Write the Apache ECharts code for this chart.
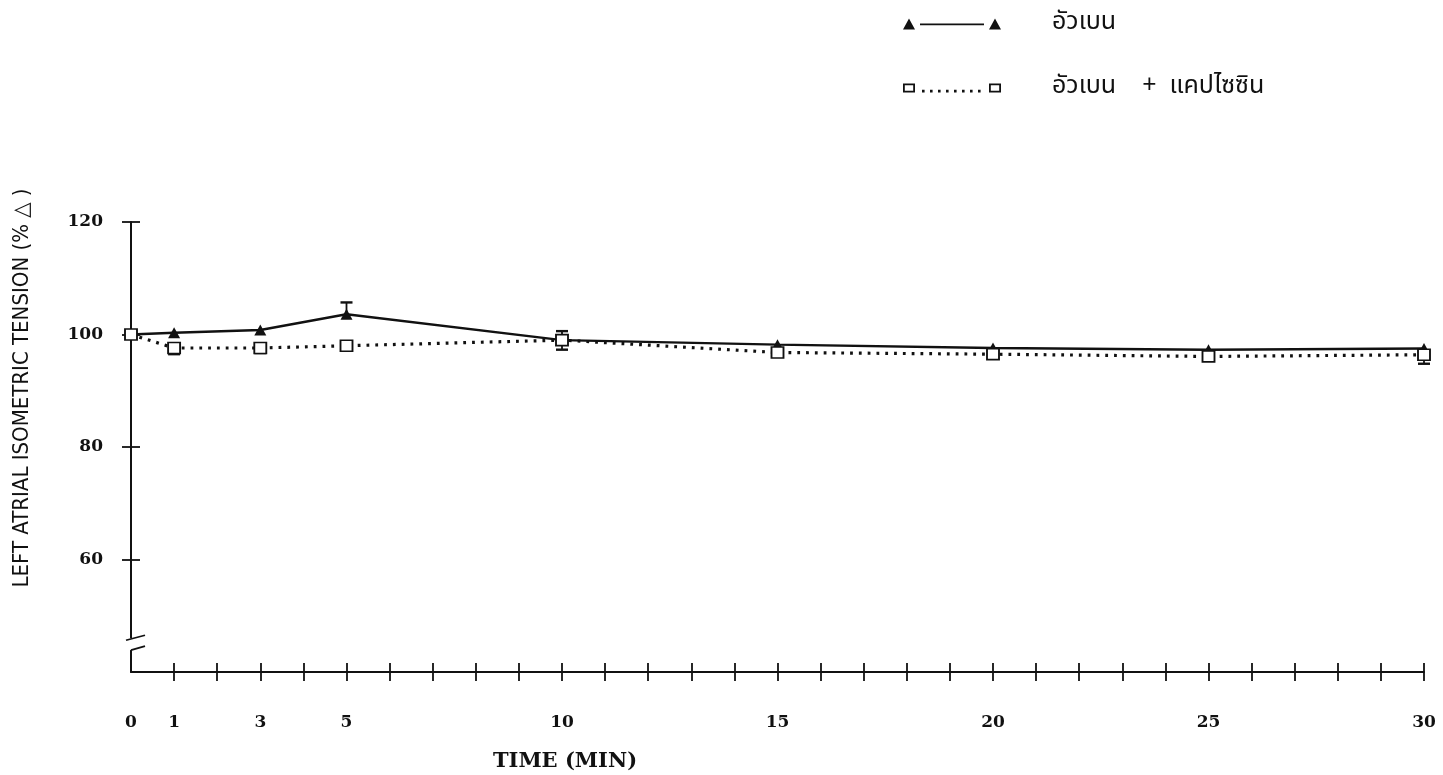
<!DOCTYPE html>
<html><head><meta charset="utf-8">
<script src="https://cdn.jsdelivr.net/npm/echarts@6/dist/echarts.min.js"></script>
<style>html,body{margin:0;padding:0;background:#fff}#c{width:1443px;height:775px}</style>
</head><body><div id="c"></div>
<script>
const times = [0, 1, 3, 5, 10, 15, 20, 25, 30];
const ouabain = [100, 100.3, 100.8, 103.6, 99.0, 98.2, 97.6, 97.3, 97.5];
const ouabainErrUp = [0, 0, 0, 2.1, 0, 0, 0, 0, 0];
const ouabainErrDown = [0, 0, 0, 0, 0, 0, 0, 0, 0];
const combo = [100, 97.6, 97.6, 98.0, 99.0, 96.8, 96.5, 96.1, 96.4];
const comboErrUp = [0, 0, 0, 0, 1.6, 0, 0, 0, 0];
const comboErrDown = [0, 1.1, 0.9, 0, 1.7, 0, 0, 0, 1.6];
const xLabelValues = [0, 1, 3, 5, 10, 15, 20, 25, 30];
const xTickValues = [1,2,3,4,5,6,7,8,9,10,11,12,13,14,15,16,17,18,19,20,21,22,23,24,25,26,27,28,29,30];
const yTickValues = [60, 80, 100, 120];
const seriesNames = ['อัวเบน', 'อัวเบน    +  แคปไซซิน'];
const yAxisTitle = 'LEFT ATRIAL ISOMETRIC TENSION (% △ )';
const xAxisTitle = 'TIME (MIN)';

const INK = '#111';
const serif = '"DejaVu Serif", "Liberation Serif", serif';
const thai = '"Noto Sans Thai", "Noto Sans", Loma, Garuda, sans-serif';

function errSeries(vals, up, down) {
  return {
    type: 'custom', silent: true, z: 1, xAxisIndex: 0, yAxisIndex: 0,
    data: times.map((t, i) => [t, vals[i], up[i], down[i]]),
    renderItem(params, api) {
      const x = api.value(0), y = api.value(1), u = api.value(2), d = api.value(3);
      const c = api.coord([x, y]);
      const ch = [];
      const add = (v) => {
        const p = api.coord([x, v]);
        ch.push({type: 'line', shape: {x1: c[0], y1: c[1], x2: p[0], y2: p[1]}, style: {stroke: INK, lineWidth: 1.8}});
        ch.push({type: 'line', shape: {x1: p[0] - 6, y1: p[1], x2: p[0] + 6, y2: p[1]}, style: {stroke: INK, lineWidth: 2.4}});
      };
      if (u > 0) add(y + u);
      if (d > 0) add(y - d);
      return {type: 'group', children: ch};
    }
  };
}

const triIcon = 'path://M0 11 L6 0 L12 11 Z M17 5 L81 5 L81 6.8 L17 6.8 Z M86 11 L92 0 L98 11 Z';
let dots = '';
for (const dx of [19, 27, 35, 43, 51, 59, 67, 75]) dots += ' M' + dx + ' 8.3 L' + (dx + 2.6) + ' 8.3 L' + (dx + 2.6) + ' 10.9 L' + dx + ' 10.9 Z';
const sqIcon = 'path://M0 2 L12 2 L12 11 L0 11 Z M1.8 3.8 L1.8 9.2 L10.2 9.2 L10.2 3.8 Z' + dots +
  ' M86 2 L98 2 L98 11 L86 11 Z M87.8 3.8 L87.8 9.2 L96.2 9.2 L96.2 3.8 Z';

const chart = echarts.init(document.getElementById('c'));
const xBase = {type: 'value', min: 0, max: 30, splitLine: {show: false}, position: 'bottom'};
const yBase = {type: 'value', min: 40, max: 120, splitLine: {show: false}, position: 'left'};
const tickStyle = {color: INK, width: 1.8};
chart.setOption({
  backgroundColor: '#fff',
  animation: false,
  grid: {left: 131, right: 19, top: 222, bottom: 103},
  legend: {
    orient: 'vertical', left: 898, top: 6,
    itemWidth: 98, itemHeight: 11, itemGap: 38,
    textStyle: {fontFamily: thai, fontSize: 25, color: INK, lineHeight: 26, padding: [0, 0, 0, 46]},
    data: [
      {name: seriesNames[0], icon: triIcon, itemStyle: {color: INK, borderWidth: 0}},
      {name: seriesNames[1], icon: sqIcon, itemStyle: {color: INK, borderWidth: 0}}
    ]
  },
  xAxis: [
    Object.assign({}, xBase, {
      axisLine: {show: true, onZero: false, lineStyle: {color: INK, width: 2}},
      axisTick: {show: true, inside: false, length: 9, customValues: xTickValues, lineStyle: tickStyle},
      axisLabel: {show: true, margin: 42, customValues: xLabelValues, color: INK, fontFamily: serif, fontSize: 17, fontWeight: 'bold'}
    }),
    Object.assign({}, xBase, {
      axisLine: {show: false, onZero: false},
      axisTick: {show: true, inside: true, length: 9, customValues: xTickValues, lineStyle: tickStyle},
      axisLabel: {show: false}
    })
  ],
  yAxis: [
    Object.assign({}, yBase, {
      axisLine: {show: true, onZero: false, lineStyle: {color: INK, width: 2}},
      axisTick: {show: true, inside: false, length: 9, customValues: yTickValues, lineStyle: tickStyle},
      axisLabel: {show: true, margin: 28, customValues: yTickValues, color: INK, fontFamily: serif, fontSize: 17, fontWeight: 'bold'}
    }),
    Object.assign({}, yBase, {
      axisLine: {show: false, onZero: false},
      axisTick: {show: true, inside: true, length: 9, customValues: yTickValues, lineStyle: tickStyle},
      axisLabel: {show: false}
    })
  ],
  series: [
    errSeries(ouabain, ouabainErrUp, ouabainErrDown),
    errSeries(combo, comboErrUp, comboErrDown),
    {
      name: seriesNames[0], type: 'line', z: 3,
      data: times.map((t, i) => [t, ouabain[i]]),
      symbol: 'triangle', symbolSize: [12, 11],
      itemStyle: {color: INK, borderWidth: 0},
      lineStyle: {color: INK, width: 2.5}
    },
    {
      name: seriesNames[1], type: 'line', z: 4,
      data: times.map((t, i) => [t, combo[i]]),
      symbol: 'rect', symbolSize: [12, 11],
      itemStyle: {color: '#fff', borderColor: INK, borderWidth: 1.8},
      lineStyle: {color: INK, width: 3.2, type: [2.8, 6]}
    }
  ]
});

// axis break marks and titles
const ax = chart.convertToPixel({xAxisIndex: 0}, 0);
const yTop = chart.convertToPixel({yAxisIndex: 0}, 46);
const yBot = chart.convertToPixel({yAxisIndex: 0}, 43.9);
chart.setOption({
  graphic: [
    {type: 'rect', shape: {x: ax - 4, y: yTop, width: 8, height: yBot - yTop}, style: {fill: '#fff'}, z: 50},
    {type: 'line', shape: {x1: ax - 5, y1: yTop + 2, x2: ax + 14, y2: yTop - 3}, style: {stroke: INK, lineWidth: 1.8}, z: 51},
    {type: 'line', shape: {x1: ax, y1: yBot, x2: ax + 14, y2: yBot - 4}, style: {stroke: INK, lineWidth: 1.8}, z: 51},
    {type: 'text', x: 22, y: 388, rotation: Math.PI / 2,
      style: {text: yAxisTitle, fill: INK, font: '22px "DejaVu Sans Condensed", "Liberation Sans Narrow", sans-serif', align: 'center', verticalAlign: 'middle'}},
    {type: 'text', x: 565, y: 762,
      style: {text: xAxisTitle, fill: INK, font: 'bold 21px ' + serif, align: 'center', verticalAlign: 'middle'}}
  ]
});
</script></body></html>
